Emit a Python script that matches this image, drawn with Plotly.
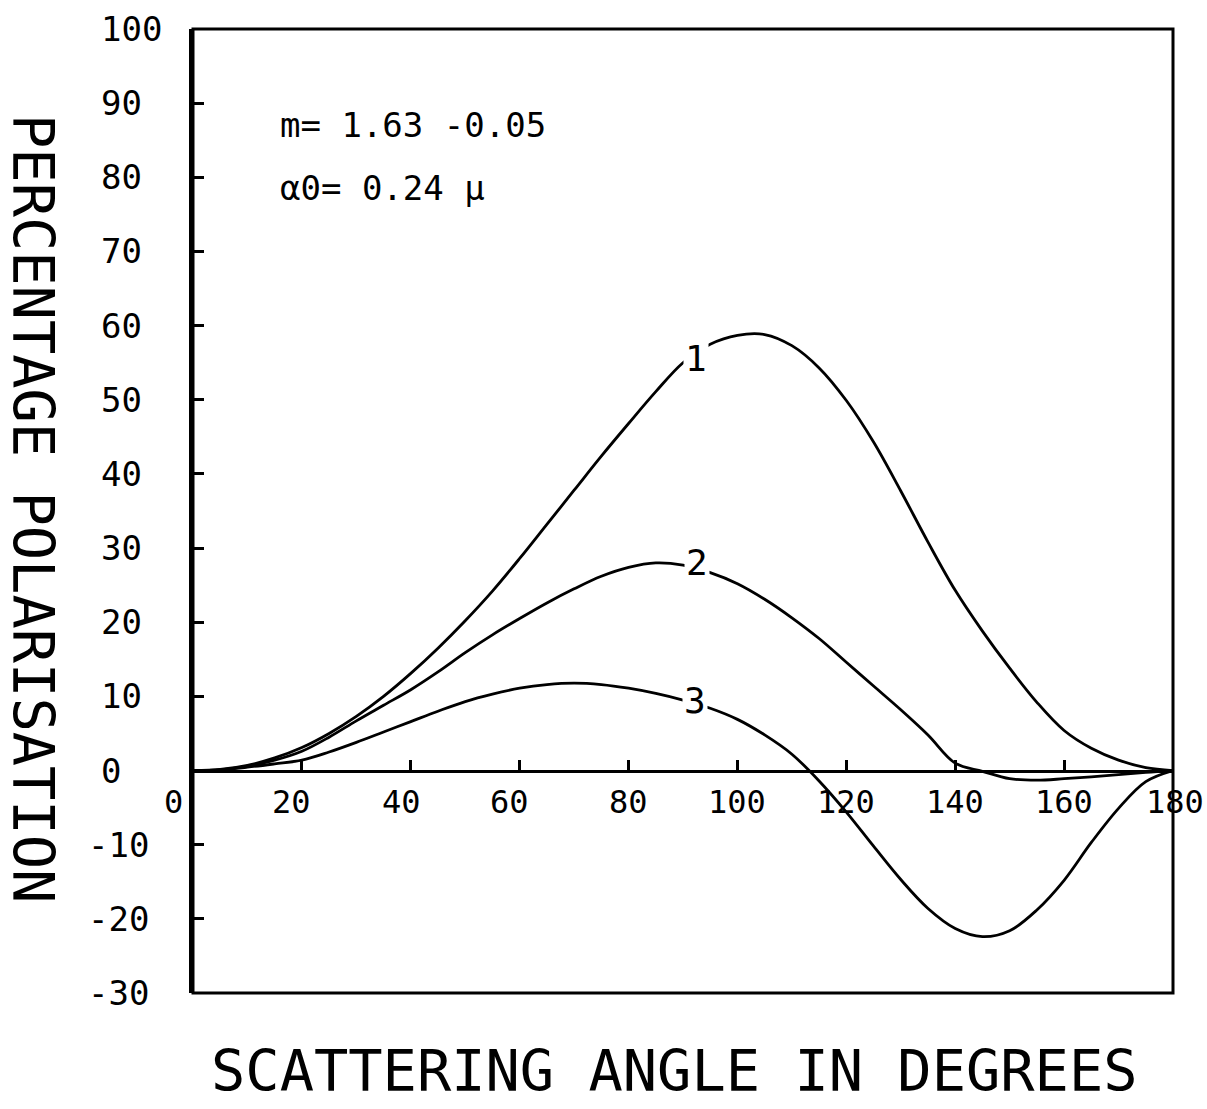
import plotly.graph_objects as go

# ---------------- data ----------------
angles = [0, 5, 10, 15, 20, 25, 30, 35, 40, 45, 50, 55, 60, 65, 70, 75, 80, 85, 90,
          95, 100, 105, 110, 115, 120, 125, 130, 135, 140, 145, 150, 155, 160, 165,
          170, 175, 180]

curve1 = [0, 0.15, 0.7, 1.7, 3.1, 5.0, 7.3, 10.0, 13.1, 16.5, 20.2, 24.2, 28.6, 33.2,
          37.8, 42.4, 46.8, 51.1, 55.0, 57.5, 58.7, 58.8, 57.3, 54.3, 49.9, 44.3,
          37.7, 30.8, 24.3, 18.8, 13.8, 9.2, 5.4, 3.0, 1.4, 0.4, 0]

curve2 = [0, 0.1, 0.6, 1.4, 2.6, 4.5, 6.7, 8.8, 10.9, 13.3, 15.9, 18.3, 20.5, 22.6,
          24.5, 26.2, 27.4, 28.0, 27.7, 26.7, 25.2, 23.1, 20.6, 17.8, 14.6, 11.4,
          8.2, 4.8, 1.0, -0.1, -1.1, -1.3, -1.1, -0.85, -0.55, -0.25, 0]

curve3 = [0, 0.1, 0.45, 0.9, 1.4, 2.5, 3.8, 5.2, 6.6, 8.0, 9.3, 10.3, 11.1, 11.6,
          11.8, 11.6, 11.1, 10.4, 9.5, 8.4, 6.9, 4.8, 2.2, -1.4, -5.6, -10.2, -14.7,
          -18.6, -21.3, -22.4, -21.6, -18.8, -14.8, -9.7, -5.1, -1.5, 0]

curve_names = ["1", "2", "3"]
label_x = [92.3, 92.6, 92.2]
label_y = [55.6, 28.0, 9.4]

x_ticks = [0, 20, 40, 60, 80, 100, 120, 140, 160, 180]
x_tick_labels = ["0", "20", "40", "60", "80", "100", "120", "140", "160", "180"]
y_ticks = [-30, -20, -10, 0, 10, 20, 30, 40, 50, 60, 70, 80, 90, 100]
y_tick_labels = ["-30", "-20", "-10", "0", "10", "20", "30", "40", "50", "60",
                 "70", "80", "90", "100"]

info_lines = ["m= 1.63 -0.05", "\u03b10= 0.24 \u03bc"]
x_title = "SCATTERING ANGLE IN DEGREES"
y_title = "PERCENTAGE POLARISATION"

# ---------------- layout geometry ----------------
W, H = 1207, 1109
L, R, T, B = 193, 34, 29, 116
PW = W - L - R
PH = H - T - B
X_RANGE = [0, 180]
Y_RANGE = [-30, 100]


def px_to_paper_x(px):
    return (px - L) / PW


def px_to_paper_y(py):
    return 1 - (py - T) / PH


FONT = "DejaVu Sans Mono"
INK = "black"

fig = go.Figure()
for ys in (curve1, curve2, curve3):
    fig.add_trace(go.Scatter(
        x=angles, y=ys, mode="lines",
        line=dict(color=INK, width=2.8, shape="spline", smoothing=1.0),
        showlegend=False, hoverinfo="skip"))

annotations = []
# curve labels (white box breaks the line as in the original)
for name, lx, ly in zip(curve_names, label_x, label_y):
    annotations.append(dict(
        x=lx, y=ly, xref="x", yref="y", text=name, showarrow=False,
        font=dict(family=FONT, size=36, color=INK),
        bgcolor="white", borderpad=1, xanchor="center", yanchor="middle"))

# x tick labels along the zero line
x_label_shift = {0: -20, 20: -10, 40: -9, 60: -10, 180: 2}
for v, t in zip(x_ticks, x_tick_labels):
    annotations.append(dict(
        x=v, y=0, xref="x", yref="y", text=t, showarrow=False,
        font=dict(family=FONT, size=32, color=INK),
        xanchor="center", yanchor="middle",
        xshift=x_label_shift.get(v, 0), yshift=-31))

# y tick labels (left aligned)
for v, t in zip(y_ticks, y_tick_labels):
    left_px = 99 if not t.startswith("-") else 86
    annotations.append(dict(
        x=px_to_paper_x(left_px), y=v, xref="paper", yref="y", text=t,
        showarrow=False, font=dict(family=FONT, size=34, color=INK),
        xanchor="left", yanchor="middle"))

# parameter text
for i, line in enumerate(info_lines):
    annotations.append(dict(
        x=px_to_paper_x(278), y=px_to_paper_y(125 + 63 * i), xref="paper",
        yref="paper", text=line, showarrow=False,
        font=dict(family=FONT, size=34, color=INK),
        xanchor="left", yanchor="middle"))

# axis titles
annotations.append(dict(
    x=px_to_paper_x(674), y=px_to_paper_y(1071), xref="paper", yref="paper",
    text=x_title, showarrow=False, font=dict(family=FONT, size=57, color=INK),
    xanchor="center", yanchor="middle"))
annotations.append(dict(
    x=px_to_paper_x(33), y=px_to_paper_y(508), xref="paper", yref="paper",
    text=y_title, showarrow=False, textangle=90,
    font=dict(family=FONT, size=57, color=INK),
    xanchor="center", yanchor="middle"))

fig.update_layout(
    width=W, height=H,
    margin=dict(l=L, r=R, t=T, b=B, pad=0),
    paper_bgcolor="white", plot_bgcolor="white",
    showlegend=False,
    xaxis=dict(range=X_RANGE, anchor="free",
               position=(0 - Y_RANGE[0]) / (Y_RANGE[1] - Y_RANGE[0]),
               showline=True, linecolor=INK, linewidth=3,
               ticks="inside", ticklen=10, tickwidth=2.5, tickcolor=INK,
               tickvals=x_ticks[1:-1], showticklabels=False,
               showgrid=False, zeroline=False),
    yaxis=dict(range=Y_RANGE, showline=True, linecolor=INK, linewidth=4,
               ticks="inside", ticklen=11, tickwidth=3, tickcolor=INK,
               tickvals=y_ticks[1:-1], showticklabels=False,
               showgrid=False, zeroline=False),
    shapes=[dict(type="rect", xref="paper", yref="paper", x0=0, y0=0, x1=1, y1=1,
                 line=dict(color=INK, width=3), layer="above")],
    annotations=annotations,
)

fig.write_html(
    "out.html",
    config={"displayModeBar": False},
    post_script="document.body.style.margin='0px';document.body.style.padding='0px';"
                "document.body.style.overflow='hidden';",
)
